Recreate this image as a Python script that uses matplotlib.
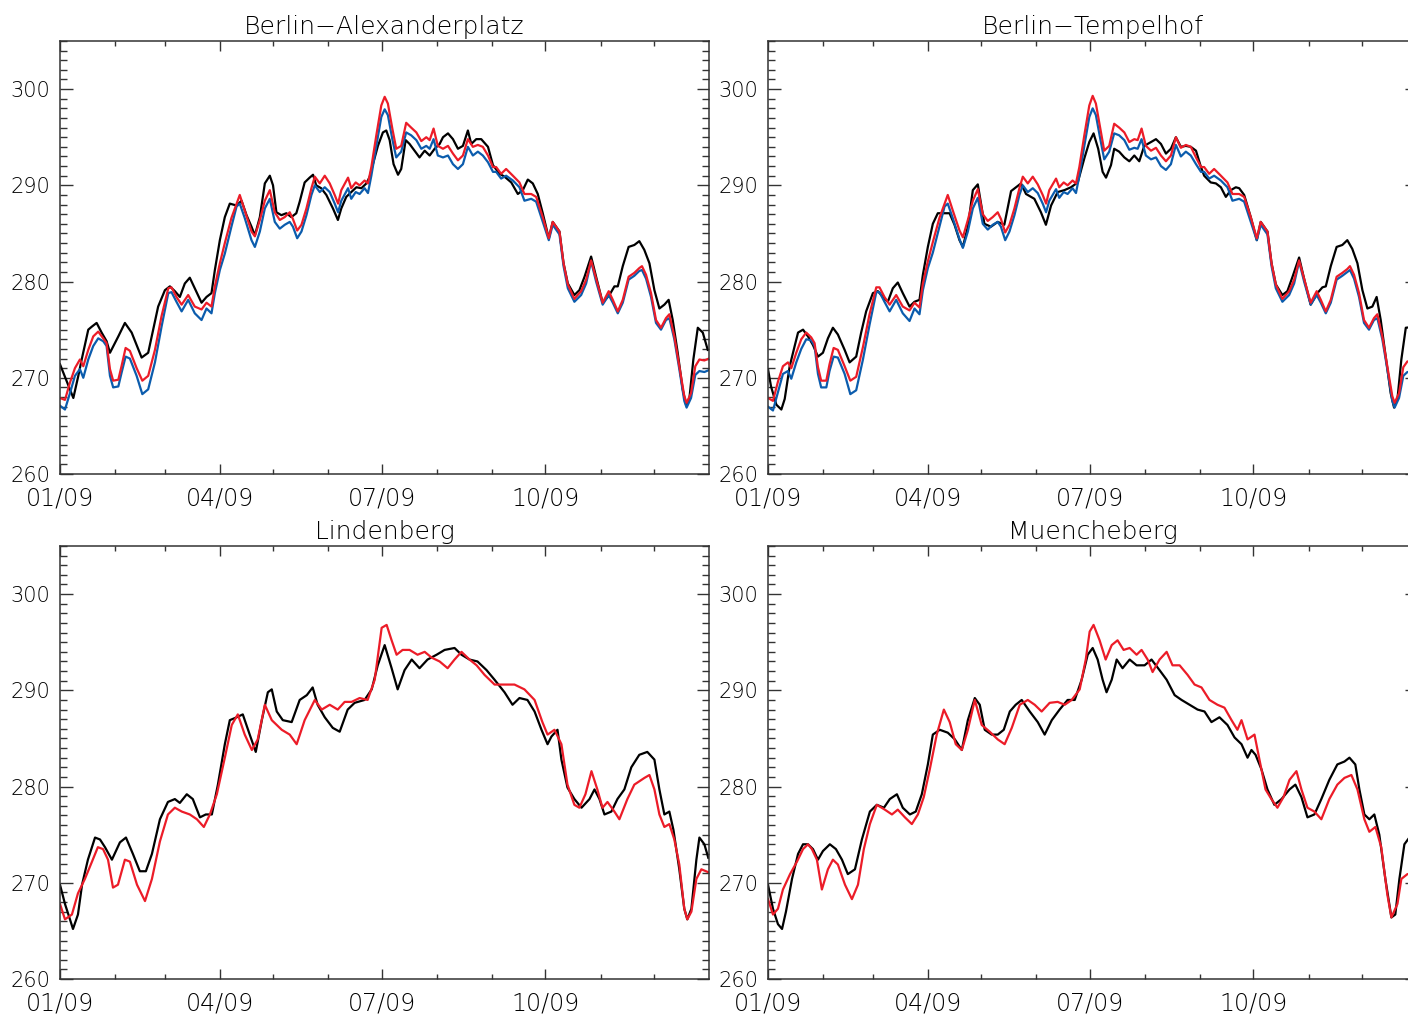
import numpy as np
import matplotlib.pyplot as plt
from matplotlib.ticker import MultipleLocator, FixedLocator

# ---- Berlin-Alexanderplatz ----
alex_black_day = [0, 7.5, 10.3, 12.2, 15.9, 17.8, 20.6, 23.4, 26.2, 28.1, 32.8, 36.5, 40.3, 43.1, 45.9,
                  49.6, 52.4, 55.2, 59, 61.8, 64.6, 67.4, 70.2, 73, 75.8, 79.6, 82.4, 85.2, 87.1, 89.9,
                  92.7, 95.5, 99.3, 102.1, 104.9, 107.7, 109.6, 112.4, 115.2, 118, 119.8, 121.7, 124.5,
                  127.3, 130.1, 132.9, 134.8, 137.6, 140.4, 142.3, 144.1, 146.9, 149.8, 153.5, 156.3,
                  158.2, 161, 163.8, 166.7, 169.5, 172.3, 174.2, 176, 178.8, 181.6, 183.5, 185.4, 187.6,
                  190.1, 191.9, 194.4, 196.6, 199.4, 202.2, 205.1, 207.9, 210.7, 213.5, 215.4, 218.2,
                  221, 223.8, 226.6, 229.4, 231.3, 234.1, 236.9, 240.7, 243.5, 247.2, 250, 253.8, 257.5,
                  260.3, 263.1, 265.9, 268.7, 271.5, 274.9, 277.1, 280.9, 283.2, 285.6, 289.3, 292.1,
                  295, 298.7, 301.5, 305.2, 309, 311.8, 313.7, 316.5, 319.8, 323, 325.8, 328.6, 331.5,
                  334.3, 337.1, 339.9, 342.3, 344.6, 347.4, 350.2, 352.1, 354, 356.2, 358.7, 361.5, 364.3]
alex_black = [271.4, 267.9, 270.2, 271.9, 275.0, 275.3, 275.7, 274.7, 273.8, 272.6, 274.3, 275.7, 274.7,
              273.4, 272.1, 272.6, 275.0, 277.4, 279.1, 279.5, 279.0, 278.4, 279.8, 280.4, 279.3, 277.8,
              278.4, 278.8, 281.2, 284.3, 286.7, 288.1, 287.9, 288.4, 286.9, 285.7, 284.8, 286.7, 290.2,
              291.0, 290.0, 287.2, 286.9, 287.1, 286.7, 287.1, 288.3, 290.3, 290.8, 291.1, 290.0, 289.7,
              289.0, 287.6, 286.4, 287.6, 288.8, 289.3, 289.8, 289.7, 290.2, 290.9, 292.2, 294.1, 295.5,
              295.7, 294.7, 292.2, 291.1, 291.7, 294.7, 294.3, 293.6, 292.9, 293.6, 293.1, 293.8, 294.3,
              295.0, 295.4, 294.8, 293.8, 294.1, 295.7, 294.3, 294.8, 294.8, 294.0, 292.1, 291.2, 290.9,
              290.3, 289.1, 289.5, 290.6, 290.2, 289.1, 287.1, 284.5, 286.2, 285.2, 281.9, 279.8, 278.6,
              279.1, 280.5, 282.6, 280.5, 277.8, 278.6, 279.5, 279.5, 281.6, 283.6, 283.8, 284.2, 283.3,
              281.9, 279.1, 277.2, 277.6, 278.1, 276.0, 272.6, 268.8, 267.2, 267.9, 271.9, 275.2, 274.7,
              272.9]

alex_rb_day = [0, 2.8, 5.6, 8.4, 11.2, 13.1, 15.9, 18.7, 21.5, 24.3, 26.2, 28.1, 29.9, 32.8, 34.6, 36.9,
               39.3, 43.1, 46.3, 49.6, 53.4, 57.1, 60.9, 62.7, 65.5, 68.4, 72.1, 75.8, 79.6, 82.4, 85.2,
               87.1, 89.9, 92.7, 96.4, 99.3, 101.1, 103.9, 107.7, 109.6, 112.4, 115.2, 118, 120.8, 123.6,
               126.4, 129.2, 131, 133.4, 135.8, 138.6, 141.4, 143.3, 146.1, 148.9, 151.7, 154.5, 156.4,
               158.2, 162, 163.8, 166.3, 168.5, 171.3, 173.2, 175.1, 177.9, 180.7, 182.6, 184.4, 186.9,
               189.1, 191.9, 194.7, 197.5, 200.4, 203.2, 206, 207.9, 210.1, 212.5, 215.4, 218.2, 221,
               223.8, 226.6, 229.4, 232.2, 235, 237.8, 240.7, 243.5, 245.3, 248.1, 250.9, 254.7, 258.4,
               261.2, 265, 267.8, 271.5, 274.9, 277.1, 280.9, 283.2, 285.6, 289.3, 293.1, 295.9, 298.7,
               301.5, 305.2, 308.6, 310.9, 313.7, 316.5, 319.8, 323, 325.8, 327.3, 329.6, 332.4, 335.2,
               338, 340.8, 342.7, 345.5, 348.3, 351.1, 352.4, 354.9, 357.3, 359.6, 362.4, 365]
alex_red = [267.9, 267.7, 269.5, 271.0, 271.9, 271.2, 272.9, 274.3, 274.8, 274.1, 273.6, 270.9, 269.7,
            269.8, 271.2, 273.1, 272.8, 271.0, 269.7, 270.2, 272.9, 276.4, 279.3, 279.4, 278.4, 277.6,
            278.6, 277.4, 277.1, 277.8, 277.4, 279.5, 281.9, 284.0, 286.6, 288.1, 289.0, 287.4, 285.2,
            284.7, 286.4, 288.4, 289.5, 287.2, 286.4, 286.7, 287.2, 286.5, 285.3, 285.9, 287.6, 289.7,
            290.9, 290.2, 291.0, 290.2, 289.0, 288.1, 289.5, 290.8, 289.7, 290.3, 290.0, 290.5, 290.2,
            291.9, 295.2, 298.3, 299.2, 298.5, 295.9, 293.8, 294.1, 296.5, 296.0, 295.5, 294.6, 295.0,
            294.7, 295.9, 294.1, 293.8, 294.1, 293.3, 292.6, 293.1, 294.8, 294.0, 294.2, 294.0, 293.1,
            291.9, 291.9, 291.2, 291.7, 291.0, 290.3, 289.1, 289.1, 288.8, 286.7, 284.5, 286.2, 285.2,
            281.9, 279.7, 278.2, 279.0, 280.2, 282.2, 280.3, 277.8, 279.0, 278.1, 276.9, 278.1, 280.5,
            280.9, 281.4, 281.6, 280.7, 278.8, 276.0, 275.2, 276.2, 276.6, 274.3, 271.2, 268.1, 267.4,
            268.4, 271.2, 271.9, 271.8, 272.0]
alex_blue = [267.1, 266.7, 268.4, 270.2, 270.9, 270.0, 271.9, 273.3, 274.1, 273.8, 273.3, 270.2, 269.0,
             269.1, 270.5, 272.2, 272.0, 270.2, 268.3, 268.8, 271.6, 275.3, 278.8, 278.9, 277.9, 276.9,
             278.1, 276.7, 276.0, 277.2, 276.7, 278.8, 281.2, 282.9, 285.7, 287.8, 288.1, 286.6, 284.3,
             283.6, 285.2, 287.6, 288.6, 286.2, 285.5, 285.9, 286.2, 285.7, 284.5, 285.2, 286.9, 289.0,
             290.0, 289.3, 289.8, 289.3, 288.1, 287.2, 288.4, 289.7, 288.6, 289.3, 289.1, 289.7, 289.2,
             291.0, 294.1, 297.1, 297.9, 297.3, 294.8, 292.9, 293.5, 295.5, 295.2, 294.7, 293.8, 294.1,
             293.8, 294.8, 293.1, 292.9, 293.1, 292.2, 291.7, 292.2, 294.0, 293.1, 293.5, 293.1, 292.4,
             291.4, 291.4, 290.7, 291.0, 290.5, 289.8, 288.4, 288.6, 288.3, 286.2, 284.3, 285.9, 284.9,
             281.6, 279.3, 277.9, 278.6, 279.8, 282.1, 280.0, 277.6, 278.6, 277.8, 276.7, 277.8, 280.2,
             280.6, 281.1, 281.2, 280.3, 278.4, 275.7, 275.0, 276.0, 276.2, 274.0, 270.9, 267.6, 266.9,
             267.9, 270.3, 270.7, 270.6, 270.8]

# ---- Berlin-Tempelhof ----
temp_black_day = [0, 1.7, 4.7, 7.5, 9.4, 12.2, 15, 16.9, 19.7, 22.5, 25.3, 28.1, 30.9, 33.7, 36.5, 39.3,
                  43.1, 45.9, 49.6, 52.4, 55.2, 59, 61.8, 64.6, 67.4, 70.2, 73, 75.8, 79.6, 82.4, 85.2,
                  87.1, 89.9, 92.7, 95.5, 99.3, 102.1, 104.9, 107.7, 109.6, 112.4, 115.2, 118, 121.7,
                  125.4, 129.2, 132.9, 136.7, 142.3, 145.1, 149.8, 153.5, 156.3, 159.2, 162.9, 166.7,
                  170.4, 174.2, 177.9, 180.7, 183.1, 185.7, 188.2, 190.1, 192.9, 194.7, 197.5, 200.4,
                  203.2, 206, 208.8, 211.6, 215.4, 218.2, 221, 223.8, 226.6, 229.4, 232.2, 235, 237.8,
                  240.7, 243.5, 245.3, 249, 251.9, 254.7, 257.5, 260.3, 263.1, 265, 267.8, 271.5, 274.9,
                  277.1, 280.9, 283.2, 285.6, 289.3, 292.1, 295, 298.7, 301.5, 305.2, 309, 311.8, 313.7,
                  316.5, 319.8, 323, 325.8, 328.6, 331.5, 334.3, 337.1, 339.9, 342.3, 344.6, 347.4,
                  350.2, 352.1, 354, 356.2, 358.7, 364]
temp_black = [270.9, 269.1, 267.2, 266.7, 267.8, 271.2, 273.3, 274.7, 275.0, 274.3, 273.4, 272.2, 272.6,
              274.1, 275.2, 274.5, 272.9, 271.6, 272.2, 274.7, 276.9, 278.8, 279.0, 278.4, 277.9, 279.3,
              279.9, 278.8, 277.4, 277.9, 278.1, 280.7, 283.6, 286.0, 287.1, 287.1, 287.1, 285.9, 284.3,
              283.6, 285.7, 289.5, 290.1, 286.0, 285.7, 286.2, 285.9, 289.4, 290.2, 289.1, 288.6, 287.2,
              285.9, 287.9, 289.3, 289.5, 289.8, 290.3, 292.8, 294.5, 295.4, 293.8, 291.4, 290.8, 292.1,
              293.8, 293.5, 292.9, 292.5, 293.1, 292.5, 294.1, 294.5, 294.8, 294.3, 293.3, 293.8, 295.0,
              294.0, 294.1, 294.0, 293.6, 291.9, 291.0, 290.3, 290.2, 289.8, 288.8, 289.5, 289.8, 289.7,
              289.0, 286.7, 284.3, 286.2, 285.2, 281.9, 279.7, 278.6, 279.0, 280.5, 282.5, 280.3, 277.6,
              278.8, 279.4, 279.5, 281.6, 283.6, 283.8, 284.3, 283.4, 281.9, 279.1, 277.2, 277.4, 278.4,
              276.0, 272.2, 268.4, 266.9, 267.8, 271.9, 275.2, 275.3]
temp_rb_day = alex_rb_day
temp_red = [267.9, 267.6, 269.6, 271.2, 271.6, 271.0, 272.6, 274.0, 274.7, 274.2, 273.6, 271.1, 269.7,
            269.7, 271.4, 273.1, 272.9, 271.2, 269.7, 270.1, 273.2, 276.6, 279.4, 279.4, 278.4, 277.6,
            278.6, 277.4, 277.0, 277.8, 277.3, 279.8, 282.1, 284.1, 286.6, 288.1, 289.0, 287.4, 285.3,
            284.6, 286.4, 288.4, 289.6, 287.0, 286.3, 286.7, 287.2, 286.5, 285.1, 285.9, 287.6, 289.7,
            290.9, 290.2, 290.9, 290.1, 289.0, 288.1, 289.5, 290.7, 289.8, 290.3, 290.0, 290.5, 290.2,
            291.9, 295.2, 298.3, 299.3, 298.5, 295.9, 293.6, 294.1, 296.4, 296.0, 295.5, 294.5, 294.8,
            294.7, 295.9, 294.1, 293.6, 293.9, 293.1, 292.5, 293.1, 295.0, 293.9, 294.2, 294.0, 292.9,
            291.9, 291.9, 291.2, 291.7, 291.0, 290.3, 289.1, 289.1, 288.8, 286.7, 284.5, 286.2, 285.2,
            281.9, 279.7, 278.2, 279.0, 280.2, 282.2, 280.3, 277.8, 279.0, 278.1, 276.9, 278.1, 280.5,
            280.9, 281.3, 281.6, 280.7, 278.8, 276.0, 275.2, 276.2, 276.6, 274.3, 271.2, 268.1, 267.4,
            268.4, 271.1, 271.7, 271.6, 271.8]
temp_blue = [267.0, 266.6, 268.5, 270.4, 270.7, 269.9, 271.6, 273.0, 274.0, 273.9, 273.3, 270.4, 269.0,
             269.0, 270.7, 272.2, 272.1, 270.4, 268.3, 268.7, 271.9, 275.5, 278.9, 278.9, 277.9, 276.9,
             278.1, 276.7, 275.9, 277.2, 276.6, 279.1, 281.4, 283.0, 285.7, 287.8, 288.1, 286.6, 284.4,
             283.5, 285.2, 287.6, 288.7, 286.0, 285.4, 285.9, 286.2, 285.7, 284.3, 285.2, 286.9, 289.0,
             290.0, 289.3, 289.7, 289.2, 288.1, 287.2, 288.4, 289.6, 288.7, 289.3, 289.1, 289.7, 289.2,
             291.0, 294.1, 297.1, 298.0, 297.3, 294.8, 292.7, 293.5, 295.4, 295.2, 294.7, 293.7, 293.9,
             293.8, 294.8, 293.1, 292.7, 292.9, 292.0, 291.6, 292.2, 294.2, 293.0, 293.5, 293.1, 292.2,
             291.4, 291.4, 290.7, 291.0, 290.5, 289.8, 288.4, 288.6, 288.3, 286.2, 284.3, 285.9, 284.9,
             281.6, 279.3, 277.9, 278.6, 279.8, 282.1, 280.0, 277.6, 278.6, 277.8, 276.7, 277.8, 280.2,
             280.6, 281.0, 281.2, 280.3, 278.4, 275.7, 275.0, 276.0, 276.2, 274.0, 270.9, 267.6, 266.9,
             267.9, 270.2, 270.6, 270.5, 270.7]

# ---- Lindenberg ----
lind_black_day = [0, 2.8, 5.6, 7.3, 10.1, 12.4, 15.7, 19.7, 22.5, 25.3, 29.2, 33.7, 37.1, 41.0, 44.9,
                  48.3, 51.7, 56.2, 60.7, 64.6, 67.4, 71.3, 74.7, 78.7, 82.0, 85.4, 88.8, 92.7, 95.5,
                  99.4, 102.8, 106.7, 110.1, 113.5, 116.9, 119.1, 121.9, 125.3, 130.3, 134.8, 138.8,
                  142.1, 144.9, 148.9, 153.4, 157.3, 161.8, 165.7, 171.3, 175.3, 178.7, 182.6, 186.5,
                  189.9, 193.8, 197.8, 202.2, 206.7, 211.8, 216.3, 221.9, 225.8, 230.3, 234.8, 239.9,
                  244.4, 250.0, 254.5, 258.4, 262.9, 266.9, 270.8, 274.2, 276.4, 279.8, 282.0, 285.4,
                  289.3, 293.3, 297.8, 300.6, 303.4, 306.2, 310.1, 313.5, 317.4, 321.3, 325.8, 330.3,
                  334.3, 337.1, 339.9, 342.7, 345.0, 348.3, 351.1, 352.8, 355.1, 357.9, 359.6, 362.4,
                  364.6]
lind_black = [269.8, 267.8, 266.2, 265.2, 266.7, 269.8, 272.4, 274.7, 274.5, 273.7, 272.4, 274.2, 274.7,
              273.0, 271.2, 271.2, 273.0, 276.6, 278.4, 278.7, 278.3, 279.2, 278.7, 276.8, 277.1, 277.1,
              280.2, 284.4, 286.9, 287.2, 287.5, 285.4, 283.6, 286.9, 289.8, 290.1, 287.8, 286.9, 286.7,
              289.0, 289.5, 290.3, 288.5, 287.2, 286.1, 285.7, 288.0, 288.7, 289.0, 290.1, 292.6, 294.7,
              292.3, 290.1, 292.1, 293.2, 292.3, 293.2, 293.7, 294.2, 294.4, 293.7, 293.2, 293.0, 292.1,
              291.1, 289.8, 288.5, 289.2, 289.0, 287.8, 285.9, 284.4, 285.2, 285.9, 282.8, 279.9, 278.7,
              277.8, 278.7, 279.7, 278.7, 277.1, 277.4, 278.7, 279.7, 282.0, 283.3, 283.6, 282.8, 279.7,
              277.1, 277.4, 275.5, 271.4, 267.3, 266.2, 267.3, 272.4, 274.7, 274.0, 272.6]
lind_red_day = [0, 2.8, 6.7, 10.1, 14.0, 18.0, 21.3, 24.2, 27.0, 29.8, 32.6, 36.5, 39.3, 43.3, 47.8,
                51.7, 56.2, 60.7, 64.6, 68.5, 73.0, 77.0, 80.9, 84.3, 88.2, 92.7, 96.6, 100.0, 103.9,
                107.9, 111.2, 115.2, 119.1, 124.7, 129.2, 133.1, 137.6, 143.3, 147.2, 151.7, 156.2,
                160.1, 164.0, 168.5, 173.0, 177.0, 180.9, 183.7, 186.5, 189.3, 192.7, 196.6, 201.1,
                205.1, 209.0, 213.5, 218.0, 221.9, 225.8, 230.3, 234.3, 238.8, 244.4, 250.0, 255.6,
                261.2, 266.9, 271.3, 274.2, 278.1, 282.0, 285.4, 289.3, 292.1, 295.5, 298.9, 302.2,
                305.1, 307.9, 311.8, 314.6, 319.1, 323.0, 328.7, 331.5, 334.3, 337.1, 339.9, 342.7,
                345.5, 348.3, 351.1, 352.8, 355.1, 357.9, 360.7, 364.6]
lind_red = [267.8, 266.2, 266.7, 268.9, 270.4, 272.2, 273.7, 273.5, 272.4, 269.5, 269.8, 272.4, 272.2,
            269.8, 268.1, 270.4, 274.3, 277.1, 277.8, 277.4, 277.1, 276.6, 275.8, 277.1, 279.2, 283.0,
            286.4, 287.5, 285.4, 283.8, 284.9, 288.5, 286.9, 285.9, 285.4, 284.4, 286.9, 289.0, 288.0,
            288.5, 288.0, 288.8, 288.8, 289.2, 289.0, 291.1, 296.5, 296.8, 295.2, 293.7, 294.2, 294.2,
            293.7, 294.0, 293.4, 293.0, 292.3, 293.2, 294.0, 293.2, 292.6, 291.6, 290.6, 290.6, 290.6,
            290.1, 289.0, 286.7, 285.4, 285.9, 284.4, 280.2, 278.1, 277.8, 279.2, 281.6, 279.7, 277.8,
            278.4, 277.4, 276.6, 278.7, 280.2, 280.9, 281.2, 279.7, 277.1, 275.8, 276.1, 274.5, 271.9,
            267.3, 266.2, 267.0, 270.4, 271.4, 271.1]

# ---- Muencheberg ----
muen_black_day = [0, 2.8, 5.6, 7.9, 10.1, 13.5, 16.9, 19.7, 22.5, 25.3, 28.1, 30.9, 34.8, 38.2, 41.6,
                  44.9, 48.9, 52.8, 57.3, 61.2, 65.2, 68.5, 72.5, 75.8, 79.8, 83.1, 86.5, 89.9, 92.7,
                  96.6, 101.1, 105.1, 109.0, 112.4, 116.3, 119.1, 121.9, 125.8, 129.2, 132.6, 136.0,
                  139.3, 142.7, 147.2, 151.7, 155.6, 159.6, 164.0, 168.5, 172.5, 176.4, 179.8, 182.6,
                  185.4, 188.2, 190.4, 193.3, 196.1, 199.4, 203.4, 207.3, 211.8, 215.7, 220.2, 224.2,
                  228.7, 232.6, 237.1, 241.6, 245.5, 249.4, 253.9, 258.4, 262.4, 266.3, 269.7, 271.9,
                  274.2, 277.5, 280.9, 284.8, 288.8, 293.3, 296.6, 300.0, 303.4, 307.3, 311.2, 315.7,
                  320.2, 324.2, 327.0, 330.3, 332.6, 335.4, 338.2, 341.0, 343.8, 347.2, 350.6, 352.8,
                  355.1, 357.9, 360.7, 365]
muen_black = [269.8, 267.3, 265.7, 265.2, 267.0, 270.4, 273.0, 274.0, 274.0, 273.5, 272.4, 273.3, 274.0,
              273.5, 272.4, 270.9, 271.4, 274.5, 277.4, 278.1, 277.8, 278.7, 279.2, 277.8, 277.1, 277.4,
              279.2, 282.3, 285.4, 285.9, 285.6, 284.9, 283.8, 286.9, 289.2, 288.5, 285.9, 285.4, 285.4,
              285.9, 287.8, 288.5, 289.0, 287.8, 286.7, 285.4, 286.9, 288.0, 289.0, 289.0, 291.1, 293.7,
              294.4, 293.2, 291.1, 289.8, 291.1, 293.2, 292.3, 293.2, 292.6, 292.6, 293.2, 292.1, 291.1,
              289.5, 289.0, 288.5, 288.0, 287.8, 286.7, 287.2, 286.4, 285.1, 284.4, 283.0, 283.8, 283.3,
              281.8, 279.7, 278.1, 278.7, 279.7, 280.2, 278.9, 276.8, 277.1, 278.7, 280.7, 282.3, 282.6,
              283.0, 282.3, 279.7, 277.1, 276.6, 277.1, 275.0, 270.4, 266.4, 266.7, 270.4, 274.0, 274.7,
              275.0]
muen_red_day = [0, 2.8, 5.6, 8.4, 12.4, 16.3, 19.7, 22.5, 24.7, 27.5, 30.3, 33.7, 36.5, 39.3, 43.3,
                47.2, 50.6, 53.9, 57.3, 61.2, 65.7, 69.7, 73.0, 77.0, 80.9, 84.3, 87.6, 91.0, 94.9,
                98.9, 102.2, 105.6, 109.0, 112.4, 116.3, 120.2, 124.7, 129.2, 133.1, 137.1, 141.6,
                146.1, 150.0, 153.9, 158.4, 162.9, 166.9, 170.8, 175.3, 178.7, 180.9, 183.1, 186.5,
                189.9, 193.3, 196.6, 200.0, 203.4, 207.3, 210.1, 213.5, 216.3, 220.2, 224.2, 227.5,
                231.5, 236.0, 239.9, 243.8, 248.3, 252.8, 256.7, 260.7, 264.0, 266.3, 269.7, 273.6,
                276.4, 279.8, 283.1, 286.5, 289.9, 293.3, 297.2, 300.0, 303.4, 307.3, 311.2, 315.7,
                320.2, 324.2, 328.1, 331.5, 335.4, 338.2, 341.6, 344.9, 348.3, 350.6, 354.0, 356.2,
                359.6, 365]
muen_red = [268.3, 266.7, 267.3, 269.3, 270.9, 272.2, 273.5, 274.0, 273.5, 272.4, 269.3, 271.4, 272.4,
            271.9, 269.8, 268.3, 269.8, 273.5, 276.1, 278.1, 277.6, 277.1, 277.6, 276.8, 276.1, 277.1,
            278.9, 281.8, 285.4, 288.0, 286.7, 284.4, 283.8, 285.9, 289.0, 286.4, 285.7, 284.9, 284.4,
            286.1, 288.5, 289.0, 288.5, 287.8, 288.7, 288.8, 288.5, 289.0, 290.1, 293.2, 296.1, 296.8,
            295.2, 293.2, 294.7, 295.2, 294.2, 294.4, 293.7, 294.2, 293.2, 291.9, 293.2, 294.0, 292.6,
            292.6, 291.6, 290.6, 290.3, 289.0, 288.5, 288.2, 286.9, 285.9, 286.9, 284.9, 285.4, 282.8,
            279.7, 278.7, 277.8, 278.9, 280.7, 281.6, 279.7, 277.8, 277.4, 276.6, 278.7, 280.2, 280.9,
            281.2, 279.7, 276.6, 275.3, 275.8, 273.7, 268.8, 266.4, 267.8, 270.4, 270.9, 271.0]

panels = [
    ('Berlin\u2212Alexanderplatz', (alex_black_day, alex_black), (alex_rb_day, alex_blue), (alex_rb_day, alex_red)),
    ('Berlin\u2212Tempelhof', (temp_black_day, temp_black), (temp_rb_day, temp_blue), (temp_rb_day, temp_red)),
    ('Lindenberg', (lind_black_day, lind_black), None, (lind_red_day, lind_red)),
    ('Muencheberg', (muen_black_day, muen_black), None, (muen_red_day, muen_red)),
]

month_days = [0, 31, 59, 90, 120, 151, 181, 212, 243, 273, 304, 334]
major_days = [0, 90, 181, 273]
major_labels = ['01/09', '04/09', '07/09', '10/09']

plt.rcParams['font.family'] = ['DejaVu Sans']
W, H = 1408, 1017
fig = plt.figure(figsize=(W / 100, H / 100), dpi=100)
# right-hand panels run past the right edge of the picture, as in the original
corners = [(60, 41), (768, 41), (60, 546), (768, 546)]

for (title, black, blue, red), (px, py) in zip(panels, corners):
    ax = fig.add_axes([px / W, 1 - (py + 433) / H, 649 / W, 433 / H])
    ax.plot(black[0], black[1], color='black', lw=1.6)
    if blue is not None:
        ax.plot(blue[0], blue[1], color='#0b5cad', lw=1.6)
    ax.plot(red[0], red[1], color='#ec1c28', lw=1.6)

    ax.set_xlim(0, 365)
    ax.set_ylim(260, 305)
    ax.xaxis.set_major_locator(FixedLocator(major_days))
    ax.xaxis.set_minor_locator(FixedLocator(month_days))
    ax.set_xticklabels(major_labels)
    ax.yaxis.set_major_locator(MultipleLocator(10))
    ax.yaxis.set_minor_locator(MultipleLocator(1))
    ax.tick_params(axis='both', which='both', direction='in', top=True, right=True,
                   color='#333333', width=1.0)
    ax.tick_params(axis='y', which='major', length=9, pad=7, labelsize=15)
    ax.tick_params(axis='y', which='minor', length=5)
    ax.tick_params(axis='x', which='major', length=7, pad=9, labelsize=17)
    ax.tick_params(axis='x', which='minor', length=3.5)
    for s in ax.spines.values():
        s.set_color('#333333')
        s.set_linewidth(1.1)
    for lab in ax.get_xticklabels() + ax.get_yticklabels():
        lab.set_fontweight('light')
        lab.set_color('black')
    ax.set_title(title, fontsize=18, fontweight='light', color='black', pad=5)

fig.savefig('out.png', dpi=100)
